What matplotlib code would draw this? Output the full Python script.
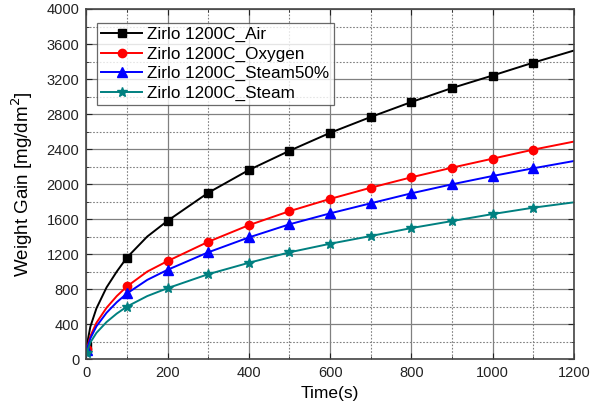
import matplotlib.pyplot as plt
from matplotlib.ticker import MultipleLocator

plt.rcParams['font.family'] = ['Liberation Sans', 'DejaVu Sans']

# line points (s)
t_line = [1, 10, 25, 50, 75, 100, 150, 200, 300, 400, 500, 600, 700, 800, 900, 1000, 1100, 1200]
air = [150, 370, 580, 820, 1000, 1160, 1400, 1580, 1900, 2160, 2380, 2585, 2766, 2937, 3097, 3240, 3387, 3525]
oxygen = [110, 262, 415, 587, 720, 830, 1000, 1120, 1340, 1530, 1690, 1830, 1958, 2077, 2187, 2290, 2393, 2485]
steam50 = [100, 237, 375, 530, 650, 750, 905, 1020, 1220, 1390, 1540, 1665, 1780, 1894, 1997, 2092, 2180, 2263]
steam = [70, 190, 300, 424, 520, 600, 720, 810, 970, 1100, 1220, 1318, 1406, 1497, 1577, 1657, 1730, 1791]

# markers every 100 s (first at ~0), none at the last point
marker_idx = [0, 5, 7, 8, 9, 10, 11, 12, 13, 14, 15, 16]

series = [
    ("Zirlo 1200C_Air", air, "black", "s", 5.5),
    ("Zirlo 1200C_Oxygen", oxygen, "red", "o", 6),
    ("Zirlo 1200C_Steam50%", steam50, "blue", "^", 6.5),
    ("Zirlo 1200C_Steam", steam, "#008080", "*", 7.5),
]

fig, ax = plt.subplots(figsize=(5.91, 4.09), dpi=100)
fig.subplots_adjust(left=0.146, right=0.971, top=0.978, bottom=0.122)

for label, vals, c, m, ms in series:
    ax.plot(t_line, vals, color=c, lw=1.4, marker=m, ms=ms,
            markevery=marker_idx, label=label)

ax.set_xlim(0, 1200)
ax.set_ylim(0, 4000)
ax.xaxis.set_major_locator(MultipleLocator(200))
ax.xaxis.set_minor_locator(MultipleLocator(100))
ax.yaxis.set_major_locator(MultipleLocator(400))
ax.yaxis.set_minor_locator(MultipleLocator(200))

ax.grid(which='major', color='#808080', lw=0.9, ls='-')
ax.grid(which='minor', color='#808080', lw=0.8, ls=(0, (1.5, 1.5)))
ax.set_axisbelow(True)

ax.tick_params(which='both', direction='in', top=True, right=True, labelsize=10.5, colors='#222222', pad=5)
ax.tick_params(which='major', length=4)
ax.tick_params(which='minor', length=2.5)
for s in ax.spines.values():
    s.set_color('#444444')
    s.set_linewidth(1.2)

ax.set_xlabel("Time(s)", fontsize=12.5, labelpad=4)
ax.set_ylabel("Weight Gain [mg/dm$^2$]", fontsize=13.5, labelpad=8)

leg = ax.legend(loc='upper left', bbox_to_anchor=(0.022, 0.96), fontsize=12.3,
                frameon=True, fancybox=False, edgecolor='#444444',
                handlelength=2.4, borderpad=0.25, labelspacing=0.25, handletextpad=0.3,
                borderaxespad=0)
leg.get_frame().set_linewidth(0.9)

fig.savefig("out.png", dpi=100)
